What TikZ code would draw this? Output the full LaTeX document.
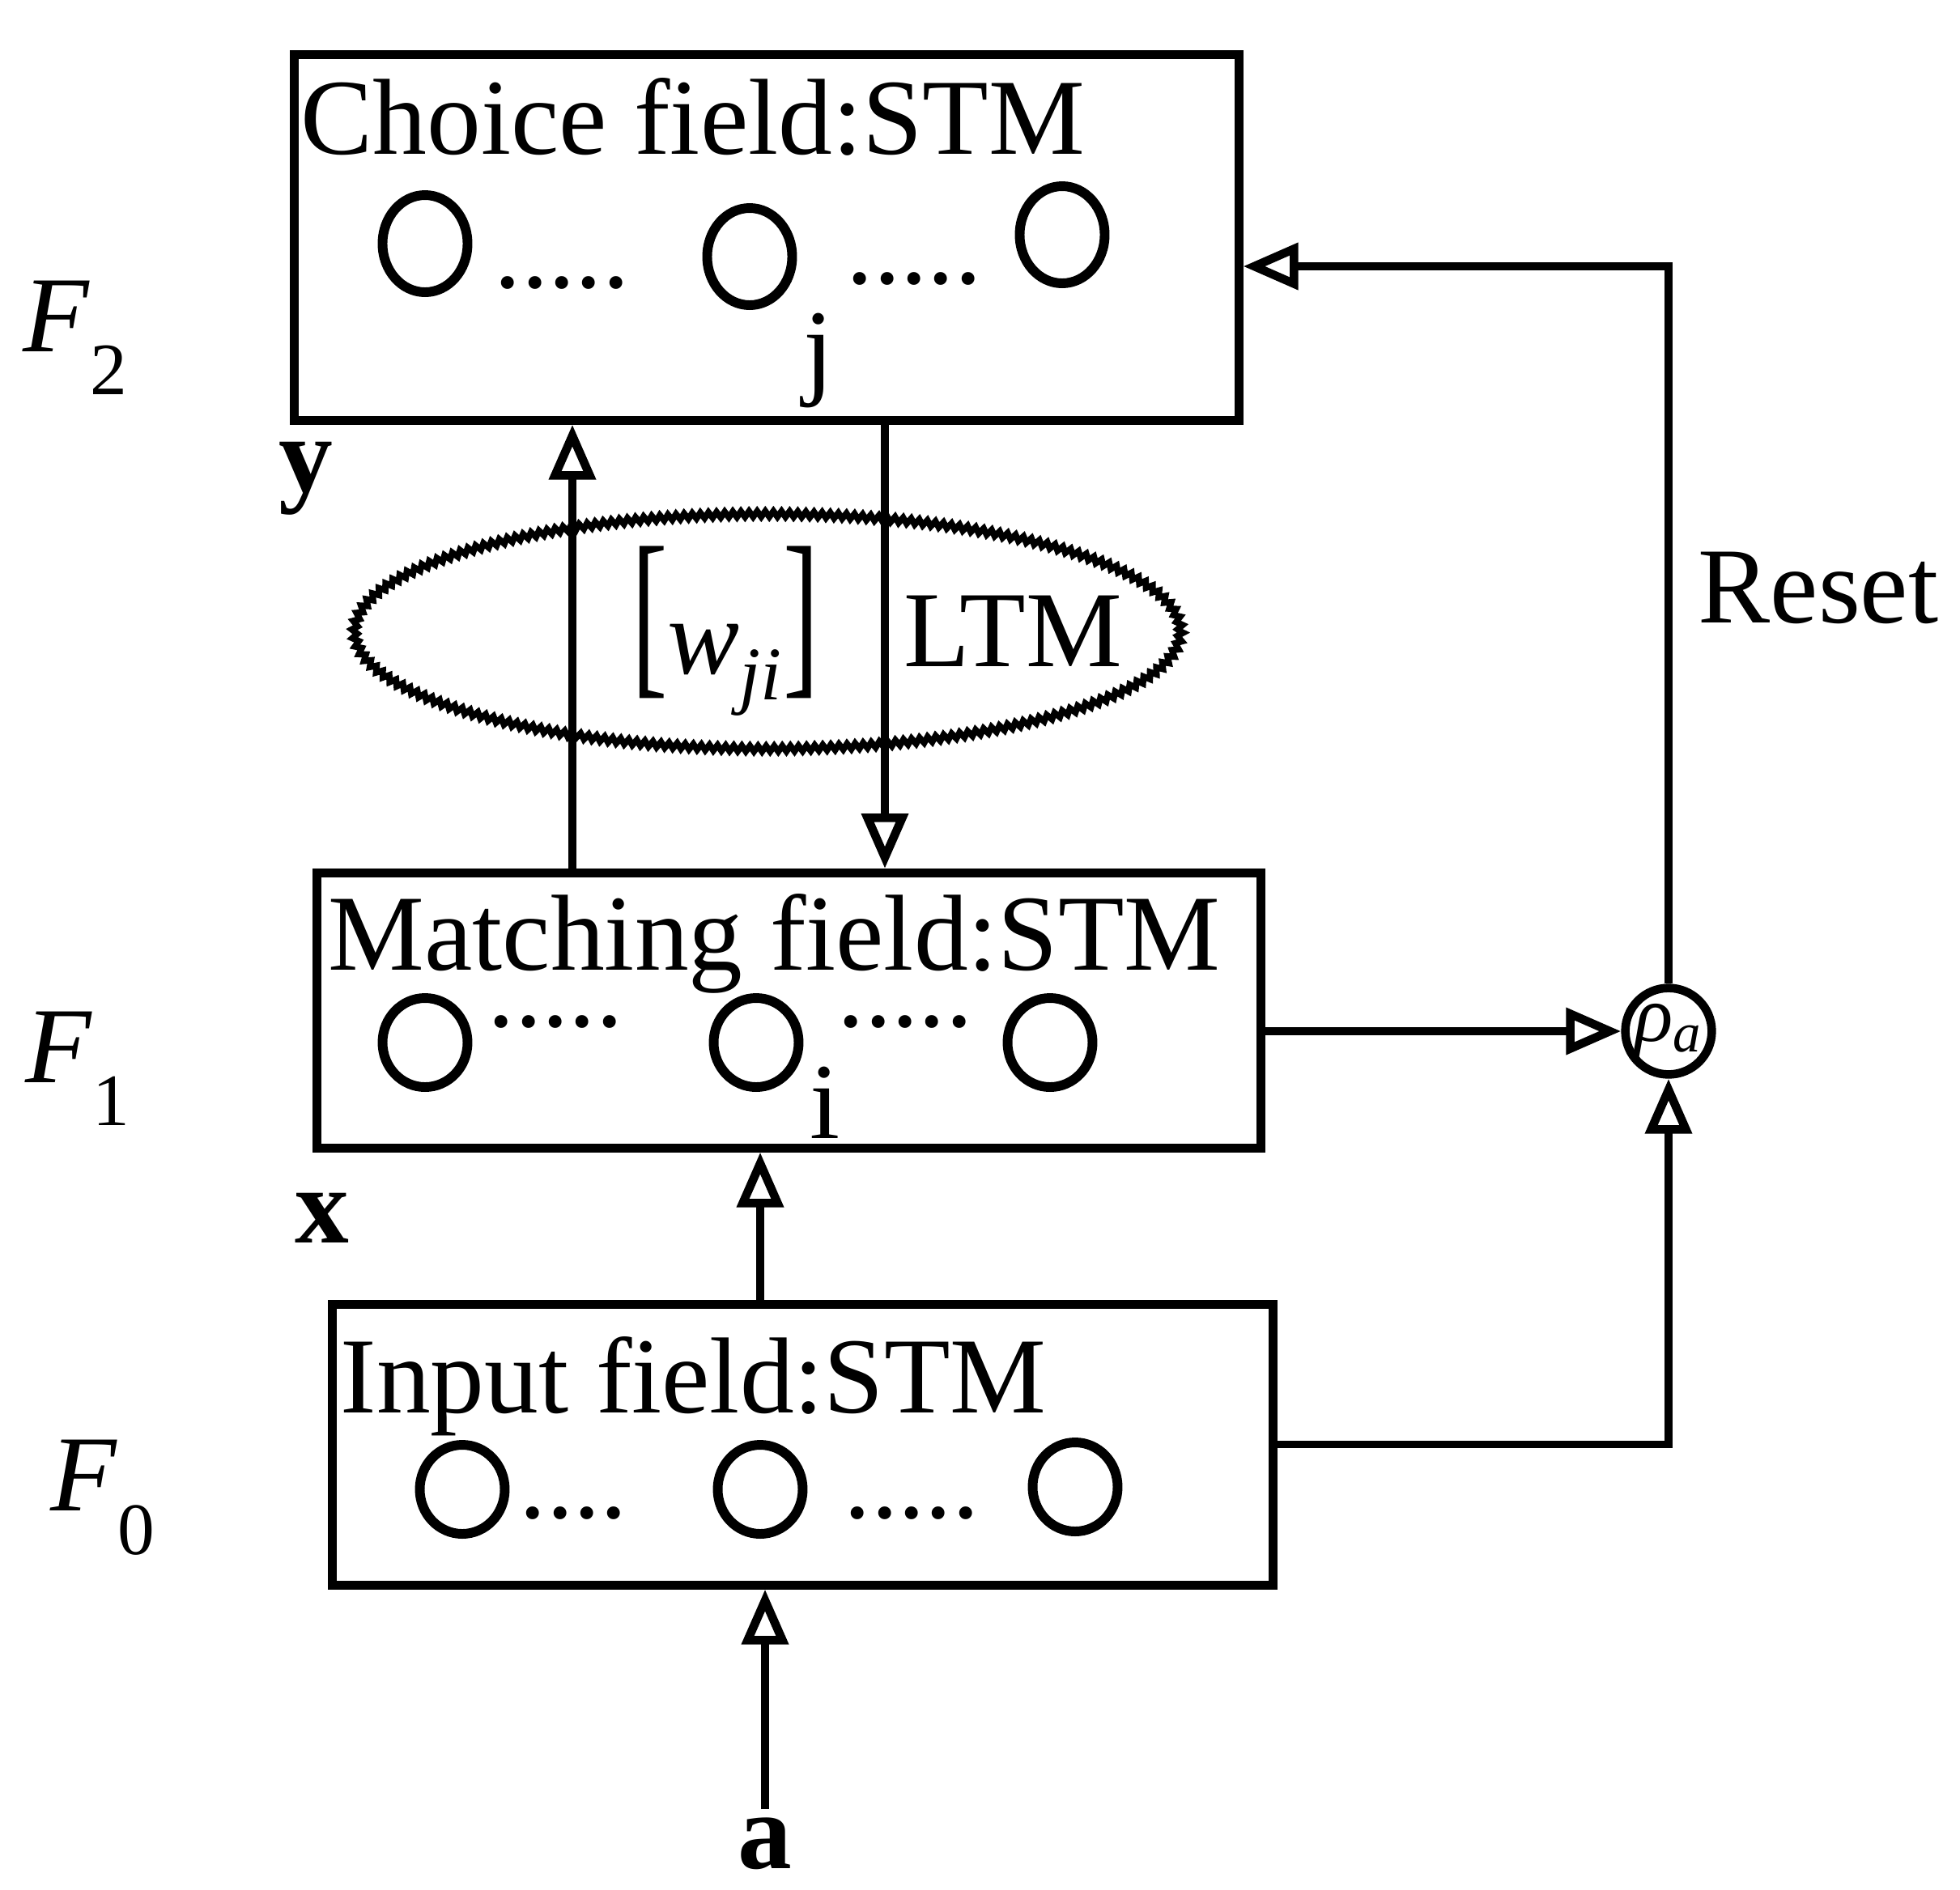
\documentclass[tikz,border=0pt]{standalone}
\usepackage{fontspec}
\setmainfont{Liberation Serif}
\usepackage{tikz}
\usetikzlibrary{arrows.meta,shapes.geometric,decorations.pathmorphing}

\newcommand{\fsub}[1]{\textit{F}\raisebox{-0.4em}{\fontsize{26}{28}\selectfont #1}}

\begin{document}
\begin{tikzpicture}[
  font=\fontsize{38}{44}\selectfont,
  field/.style={rectangle, draw, line width=3pt, anchor=north west, inner sep=0pt},
  title/.style={anchor=base west, inner sep=0pt},
  unit/.style={ellipse, draw, line width=3.4pt, minimum width=1.05cm, minimum height=1.1cm, inner sep=0pt},
  dots/.style={anchor=base west, inner sep=0pt},
  lbl/.style={inner sep=1pt},
  conn/.style={line width=2.6pt, ->, >={Triangle[open, length=0.68cm, width=0.56cm, line width=3pt]}}
]
\useasboundingbox (0,0) rectangle (24.21,-23.34);

\node[field, minimum width=11.67cm, minimum height=4.52cm] (f2) at (3.58,-0.62) {};
\node[title] (f2t) at (3.71,-1.90) {Choice field:STM};
\node[unit, minimum height=1.2cm] (y1) at (5.25,-3.01) {};
\node[dots] (y1d) at (6.10,-3.55) {.....};
\node[unit, minimum height=1.2cm] (y2) at (9.26,-3.17) {};
\node[dots] (y2d) at (10.45,-3.50) {.....};
\node[unit, minimum height=1.2cm] (y3) at (13.12,-2.90) {};
\node[lbl] (j) at (10.11,-4.45) {j};
\node[lbl] (F2) at (0.93,-4.17) {\fsub{2}};
\node[lbl] (ylbl) at (3.78,-5.91) {\textbf{y}};

\node[ellipse, draw, line width=2.2pt, minimum width=10.2cm, minimum height=2.9cm, decorate, decoration={zigzag, segment length=0.1cm, amplitude=0.035cm}] (ltm) at (9.48,-7.80) {};
\node[lbl] (w) at (8.96,-7.80) {\scalebox{1}[1.7]{[}\textit{w}\textsubscript{\textit{ji}}\scalebox{1}[1.7]{]}};
\node[lbl] (ltmt) at (12.51,-7.80) {LTM};

\node[field, minimum width=11.66cm, minimum height=3.40cm] (f1) at (3.86,-10.73) {};
\node[title] (f1t) at (4.05,-11.98) {Matching field:STM};
\node[unit] (x1) at (5.25,-12.88) {};
\node[dots] (x1d) at (6.02,-12.68) {.....};
\node[unit] (x2) at (9.34,-12.88) {};
\node[dots] (x2d) at (10.34,-12.68) {.....};
\node[unit] (x3) at (12.97,-12.88) {};
\node[lbl] (i) at (10.19,-13.62) {i};
\node[lbl] (F1) at (0.96,-13.20) {\fsub{1}};
\node[lbl] (xlbl) at (3.98,-15.05) {\textbf{x}};

\node[field, minimum width=11.62cm, minimum height=3.47cm] (f0) at (4.05,-16.06) {};
\node[title] (f0t) at (4.20,-17.45) {Input field:STM};
\node[unit] (a1) at (5.71,-18.40) {};
\node[dots] (a1d) at (6.41,-18.75) {....};
\node[unit] (a2) at (9.39,-18.40) {};
\node[dots] (a2d) at (10.42,-18.75) {.....};
\node[unit] (a3) at (13.28,-18.37) {};
\node[lbl] (F0) at (1.27,-18.50) {\fsub{0}};

\node[lbl, inner sep=0.1cm] (a) at (9.45,-22.78) {\textbf{a}};
\draw[conn] (a) -- (a |- f0.south);

\coordinate (upx) at (7.07,0);
\coordinate (dnx) at (10.93,0);
\coordinate (inx) at (9.39,0);
\coordinate (rst) at (20.58,-3.29);

\draw[conn] (upx |- f1.north) -- (upx |- f2.south);
\draw[conn] (dnx |- f2.south) -- (dnx |- f1.north);
\draw[conn] (inx |- f0.north) -- (inx |- f1.south);

\node[circle, draw, line width=3pt, minimum size=1.0cm, inner sep=0pt, font=\fontsize{28}{32}\selectfont] (rho) at (20.61,-12.74) {\textit{ρ}\textsubscript{\textit{a}}};
\draw[conn] (f1.east |- rho.west) -- (rho.west);
\draw[conn] (f0.east) -- (f0.east -| rho.south) -- (rho.south);
\draw[conn] (rho.north) -- (rho.north |- rst) -- (f2.east |- rst);
\node[lbl] (reset) at (22.46,-7.26) {Reset};

\end{tikzpicture}
\end{document}
